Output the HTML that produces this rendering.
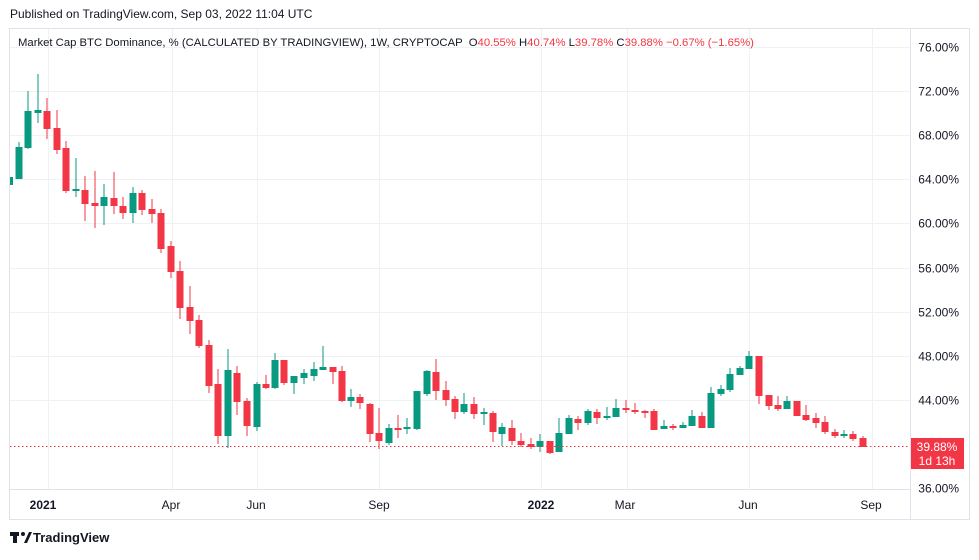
<!DOCTYPE html><html><head><meta charset="utf-8"><style>
body{margin:0;width:979px;height:555px;background:#fff;overflow:hidden;font-family:"Liberation Sans",sans-serif}
</style></head><body>
<svg width="979" height="555" xmlns="http://www.w3.org/2000/svg" font-family="Liberation Sans, sans-serif">
<text x="10" y="18" font-size="12" fill="#131722">Published on TradingView.com, Sep 03, 2022 11:04 UTC</text>
<rect x="9.5" y="28.5" width="960" height="491" fill="none" stroke="#e0e3eb"/>
<g id="grid" stroke="#f0f1f3" stroke-width="1"></g>
<line x1="10" y1="489.5" x2="910" y2="489.5" stroke="#e0e3eb"/>
<line x1="910.5" y1="29" x2="910.5" y2="519" stroke="#e0e3eb"/>
<g id="ylab" font-size="12" fill="#131722" text-anchor="end"></g>
<g font-size="12" fill="#131722" text-anchor="middle">
<text x="43" y="509" font-weight="bold">2021</text>
<text x="171" y="509">Apr</text>
<text x="256" y="509">Jun</text>
<text x="379" y="509">Sep</text>
<text x="541" y="509" font-weight="bold">2022</text>
<text x="625" y="509">Mar</text>
<text x="748" y="509">Jun</text>
<text x="871" y="509">Sep</text>
</g>
<g id="c"></g>
<line x1="10" y1="446.5" x2="910" y2="446.5" stroke="#f23645" stroke-dasharray="1.5,2.5"/>
<rect x="911" y="438" width="53" height="31" fill="#f23645"/>
<text x="937" y="451" font-size="12" fill="#fff" text-anchor="middle">39.88%</text>
<text x="937" y="465" font-size="12" fill="#fff" text-anchor="middle">1d 13h</text>
<text x="18" y="46" font-size="11.3" fill="#131722" xml:space="preserve">Market Cap BTC Dominance, % (CALCULATED BY TRADINGVIEW), 1W, CRYPTOCAP  O<tspan fill="#f23645">40.55%</tspan> H<tspan fill="#f23645">40.74%</tspan> L<tspan fill="#f23645">39.78%</tspan> C<tspan fill="#f23645">39.88% −0.67% (−1.65%)</tspan></text>
<g transform="translate(10,531)"><rect x="0" y="1" width="9" height="4" fill="#131722"/><rect x="3" y="1" width="4" height="11" fill="#131722"/><circle cx="13" cy="3" r="2" fill="#131722"/><path d="M14 12 L19 1 L22 1 L17 12Z" fill="#131722"/></g>
<text x="33" y="542" font-size="13" fill="#131722" font-weight="bold">TradingView</text>
</svg>
<script>
const ns="http://www.w3.org/2000/svg";
function el(p,t,a){const e=document.createElementNS(ns,t);for(const k in a)e.setAttribute(k,a[k]);p.appendChild(e);return e;}
const g=document.getElementById('grid'),yl=document.getElementById('ylab');
[76,72,68,64,60,56,52,48,44,40,36].forEach(v=>{const y=Math.round(47+(76-v)*11.03)+0.5;
 if(v!=40&&v!=36)el(g,'line',{x1:10,x2:910,y1:y,y2:y});
 if(v!=40){const t=el(yl,'text',{x:959,y:y+4});t.textContent=v.toFixed(2)+'%';}});
[48,172,257,379,541,627,749,872].forEach(x=>el(g,'line',{x1:x+.5,x2:x+.5,y1:29,y2:489}));
const C=[
[11,177,185,177,185,'g'],[19,147,179,142,179,'g'],[28,111,148,91,149,'g'],[38,110,113,74,123,'g'],[47,111,129,98,139,'r'],[57,128,150,110,154,'r'],[66,148,191,141,193,'r'],[76,189,191,158,197,'g'],[85,190,204,176,221,'r'],[95,203,206,171,228,'r'],[104,197,206,184,225,'g'],[114,198,206,172,214,'r'],[123,206,213,197,219,'r'],[133,193,213,187,223,'g'],[142,193,210,190,215,'r'],[152,209,214,199,223,'r'],[161,213,249,209,253,'r'],[171,246,272,241,278,'r'],[180,271,308,261,319,'r'],[190,307,321,286,334,'r'],[199,320,346,315,348,'r'],[209,345,386,340,393,'r'],[218,384,436,369,444,'r'],[228,370,436,349,448,'g'],[237,373,402,366,415,'r'],
[247,401,426,398,436,'r'],[257,384,427,382,431,'g'],[266,384,388,375,389,'r'],[275,360,388,353,389,'g'],[284,360,383,360,385,'r'],[294,376,383,376,394,'g'],[304,373,378,369,384,'g'],[314,369,376,362,381,'g'],[323,367,370,346,370,'g'],[333,367,372,367,384,'r'],[342,371,401,366,402,'r'],[351,397,401,389,407,'g'],[360,397,403,394,409,'r'],[370,404,434,403,442,'r'],[379,433,441,408,449,'r'],[389,428,443,424,445,'g'],[398,428,430,415,438,'r'],[407,427,429,418,434,'g'],[417,391,429,391,430,'g'],[427,371,394,370,396,'g'],[436,372,391,359,400,'r'],[446,390,400,381,406,'r'],[455,399,412,396,419,'r'],[464,404,412,393,414,'g'],[474,404,414,397,419,'r'],[484,412,414,408,425,'g'],[493,413,432,411,442,'r'],[502,427,434,423,446,'g'],[512,428,441,420,445,'r'],[521,441,445,433,447,'r'],[531,444,447,438,449,'r'],[540,441,447,434,452,'g'],[550,441,453,441,454,'r'],[559,433,452,418,452,'g'],[569,418,434,415,434,'g'],
[578,419,423,416,430,'r'],[588,411,423,409,425,'g'],[597,412,418,409,424,'r'],[607,416,418,407,420,'g'],[616,408,417,399,417,'g'],[626,408,410,400,413,'r'],[635,410,412,403,414,'r'],[645,411,413,410,418,'r'],[654,411,430,409,430,'r'],[664,426,429,420,429,'g'],[673,426,428,424,430,'r'],[683,425,428,422,428,'g'],[692,416,426,410,426,'g'],[702,416,428,412,428,'r'],[711,393,428,387,428,'g'],[721,389,394,385,396,'g'],[730,374,390,368,392,'g'],[740,368,375,366,375,'g'],[749,356,369,351,369,'g'],[759,356,396,356,404,'r'],[769,395,406,395,410,'r'],[778,405,409,396,411,'r'],[787,401,409,396,409,'g'],[797,401,416,401,416,'r'],[806,415,420,405,421,'r'],[816,418,423,413,428,'r'],[825,422,432,416,434,'r'],[835,432,436,429,438,'r'],[844,434,436,430,438,'g'],[853,434,439,431,441,'r'],[863,438,447,436,447,'r']];
const cg=document.getElementById('c');
C.forEach(([x,t,b,h,l,c])=>{const col=c=='g'?'#089981':'#f23645';
 el(cg,'rect',{x:x-0.5,y:h,width:1,height:Math.max(1,l-h),fill:col});
 const w=x==11?3:7;el(cg,'rect',{x:x==11?10:x-3.5,y:t,width:w,height:Math.max(2,b-t),fill:col});});
</script>
</body></html>
